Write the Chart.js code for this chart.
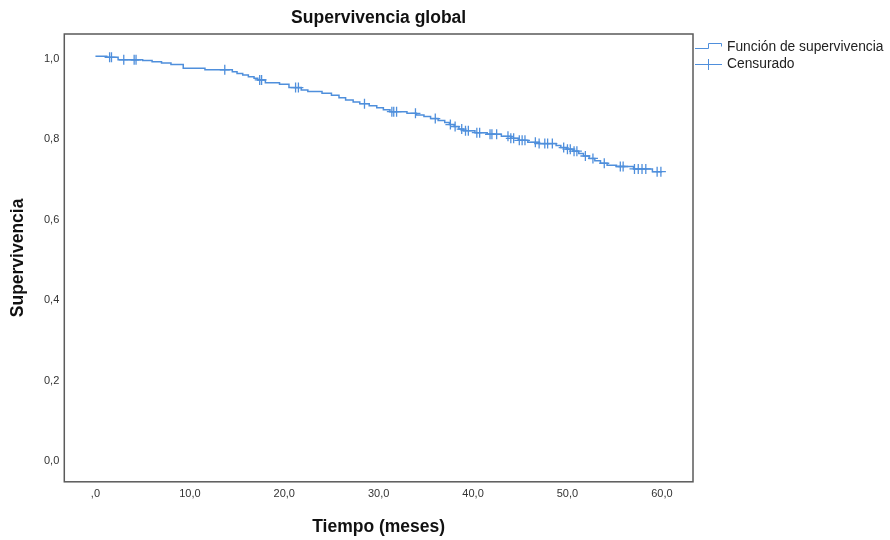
<!DOCTYPE html>
<html>
<head>
<meta charset="utf-8">
<script src="https://cdn.jsdelivr.net/npm/chart.js@4/dist/chart.umd.min.js"></script>
<style>
  html, body { margin: 0; padding: 0; background: #fff; }
  #wrap { width: 890px; height: 540px; }
</style>
</head>
<body>
<div id="wrap"><canvas id="myChart" width="890" height="540"></canvas></div>
<script>
// Kaplan-Meier step data: time (months) where survival drops, and survival after the drop
let eventTimes = [0, 1.2, 2.4, 5.0, 6.0, 7.0, 8.0, 9.3, 11.6, 14.5, 15.0, 15.6, 16.2, 16.8, 17.2, 18.0,
    19.5, 20.5, 21.8, 22.5, 24.0, 25.0, 25.8, 26.5, 27.3, 28.0, 29.0, 29.8, 30.5, 31.2, 33.0, 34.0,
    34.8, 35.5, 36.3, 37.0, 37.5, 38.0, 38.5, 39.0, 40.2, 41.5, 43.0, 44.0, 44.8, 45.8, 47.0, 48.8,
    49.3, 49.9, 50.6, 51.2, 51.7, 52.3, 52.9, 53.5, 54.2, 55.2, 57.0, 59.0, 60.0];
let survival = [1.0, 0.997, 0.991, 0.989, 0.986, 0.983, 0.979, 0.970, 0.966, 0.961, 0.957, 0.953, 0.949, 0.945, 0.941, 0.934,
    0.930, 0.922, 0.916, 0.912, 0.908, 0.903, 0.897, 0.891, 0.886, 0.882, 0.877, 0.872, 0.867, 0.862, 0.858, 0.854,
    0.850, 0.845, 0.840, 0.835, 0.830, 0.825, 0.819, 0.815, 0.810, 0.806, 0.801, 0.796, 0.791, 0.786, 0.783, 0.778,
    0.773, 0.769, 0.764, 0.758, 0.752, 0.746, 0.740, 0.734, 0.729, 0.726, 0.720, 0.713, 0.713];

// censored observations (months)
let censorTimes = [1.5, 1.7, 3.0, 4.1, 4.3, 13.7, 17.4, 17.6, 21.2, 21.5, 28.5, 31.4, 31.6, 31.9, 33.9,
    36.0, 37.6, 38.1, 38.8, 39.2, 39.5, 40.4, 40.7, 41.8, 42.0, 42.5, 43.7, 44.0, 44.3, 44.9, 45.2, 45.5,
    46.6, 47.0, 47.6, 47.9, 48.4, 49.6, 50.0, 50.3, 50.7, 51.0, 51.9, 52.7, 53.9, 55.6, 55.9,
    57.1, 57.5, 57.9, 58.3, 59.5, 59.9];

let xTickValues = [0, 10, 20, 30, 40, 50, 60];
let xTickLabels = [',0', '10,0', '20,0', '30,0', '40,0', '50,0', '60,0'];
let yTickValues = [0, 0.2, 0.4, 0.6, 0.8, 1.0];
let yTickLabels = ['0,0', '0,2', '0,4', '0,6', '0,8', '1,0'];

let lineColor = '#4f8fdc';
let fontFamily = '"Liberation Sans", Arial, sans-serif';

function survivalAt(t) {
    let s = survival[0];
    for (let i = 0; i < eventTimes.length; i++) {
        if (eventTimes[i] <= t) s = survival[i];
    }
    return s;
}

let stepPoints = eventTimes.map(function (t, i) { return { x: t, y: survival[i] } });
let censorPoints = censorTimes.map(function (t) { return { x: t, y: survivalAt(t) } });

// frame around the plot area
let framePlugin = {
    id: 'frame',
    afterDraw: function (chart) {
        let a = chart.chartArea;
        let g = chart.ctx;
        g.save();
        g.strokeStyle = '#5a5a5a';
        g.lineWidth = 1.5;
        g.strokeRect(a.left, a.top, a.right - a.left, a.bottom - a.top);
        g.restore();
    }
};

// SPSS-style legend to the right of the frame
let legendPlugin = {
    id: 'spssLegend',
    afterDraw: function (chart) {
        let a = chart.chartArea;
        let g = chart.ctx;
        let x0 = a.right + 2;
        let rowY = [a.top + 13, a.top + 30];
        g.save();
        g.strokeStyle = lineColor;
        g.lineWidth = 1;
        // step symbol
        let y = rowY[0];
        g.beginPath();
        g.moveTo(x0, y + 1.5); g.lineTo(x0 + 13.5, y + 1.5); g.lineTo(x0 + 13.5, y - 3.5);
        g.lineTo(x0 + 26.5, y - 3.5); g.lineTo(x0 + 26.5, y - 0.5);
        g.stroke();
        // censor symbol
        y = rowY[1];
        g.beginPath();
        g.moveTo(x0, y + 0.5); g.lineTo(x0 + 27, y + 0.5);
        g.moveTo(x0 + 13.5, y - 5); g.lineTo(x0 + 13.5, y + 6);
        g.stroke();
        g.fillStyle = '#222';
        g.font = '13.8px ' + fontFamily;
        g.textBaseline = 'middle';
        chart.data.datasets.forEach(function (ds, i) {
            g.fillText(ds.label, x0 + 32, rowY[i]);
        });
        g.restore();
    }
};

let myChart = new Chart('myChart', {
    type: 'scatter',
    plugins: [framePlugin, legendPlugin],
    data: {
        datasets: [
            {
                label: 'Función de supervivencia',
                type: 'line',
                data: stepPoints,
                showLine: true,
                stepped: true,
                borderColor: lineColor,
                borderWidth: 1.5,
                pointRadius: 0,
                fill: false
            },
            {
                label: 'Censurado',
                data: censorPoints,
                pointStyle: 'cross',
                pointRadius: 5,
                borderColor: lineColor,
                borderWidth: 1.3,
                showLine: false
            }
        ]
    },
    options: {
        responsive: false,
        animation: false,
        layout: { padding: { left: 0, right: 197, top: 0, bottom: 0 } },
        plugins: {
            title: {
                display: true,
                text: 'Supervivencia global',
                fullSize: false,
                color: '#111',
                font: { family: fontFamily, size: 17.5, weight: 'bold' },
                padding: { top: 7.5, bottom: 5.5 }
            },
            legend: { display: false },
            tooltip: { enabled: false }
        },
        scales: {
            x: {
                type: 'linear',
                min: -3.3,
                max: 63.3,
                grid: { display: false, drawTicks: false },
                border: { display: false },
                afterBuildTicks: function (axis) {
                    axis.ticks = xTickValues.map(function (v) { return { value: v } });
                },
                ticks: {
                    padding: 6,
                    color: '#333',
                    font: { family: fontFamily, size: 11 },
                    maxRotation: 0,
                    callback: function (value) {
                        let i = xTickValues.indexOf(value);
                        return i >= 0 ? xTickLabels[i] : '';
                    }
                },
                title: {
                    display: true,
                    text: 'Tiempo (meses)',
                    color: '#111',
                    font: { family: fontFamily, size: 17.5, weight: 'bold' },
                    padding: { top: 10, bottom: 2 }
                }
            },
            y: {
                type: 'linear',
                min: -0.057,
                max: 1.055,
                grid: { display: false, drawTicks: false },
                border: { display: false },
                afterBuildTicks: function (axis) {
                    axis.ticks = yTickValues.map(function (v) { return { value: v } });
                },
                ticks: {
                    padding: 5,
                    labelOffset: 2.5,
                    color: '#333',
                    font: { family: fontFamily, size: 11 },
                    callback: function (value) {
                        let i = yTickValues.findIndex(function (v) { return Math.abs(v - value) < 1e-9 });
                        return i >= 0 ? yTickLabels[i] : '';
                    }
                },
                title: {
                    display: true,
                    text: 'Supervivencia',
                    color: '#111',
                    font: { family: fontFamily, size: 17.5, weight: 'bold' },
                    padding: { top: 8, bottom: 10 }
                }
            }
        }
    }
});
</script>
</body>
</html>
